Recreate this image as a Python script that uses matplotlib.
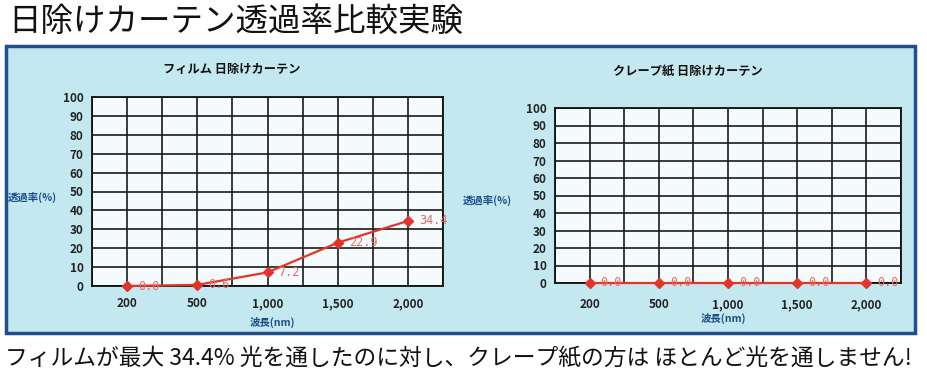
import matplotlib.pyplot as plt
from matplotlib.patches import Rectangle

plt.rcParams['font.family'] = ['Noto Sans CJK JP', 'DejaVu Sans']

# data
wavelengths = ["200", "500", "1,000", "1,500", "2,000"]
film_values = [0.0, 0.6, 7.2, 22.9, 34.4]
crepe_values = [0.0, 0.0, 0.0, 0.0, 0.0]
film_title = "フィルム 日除けカーテン"
crepe_title = "クレープ紙 日除けカーテン"
y_ticks = list(range(0, 101, 10))

W, H = 927, 384
fig = plt.figure(figsize=(W / 100, H / 100), dpi=100)
fig.patch.set_facecolor("white")

# light blue panel behind both charts
panel = Rectangle((6 / W, 1 - 333 / H), 909 / W, 287 / H, transform=fig.transFigure,
                  facecolor="#c3e8ef", edgecolor="#1f4f8e", linewidth=2.5, zorder=-1)
fig.patches.append(panel)

fig.text(8 / W, 1 - 22 / H, "日除けカーテン透過率比較実験", fontsize=23.4,
         ha="left", va="center", color="#111111")
fig.text(5 / W, 1 - 358 / H,
         "フィルムが最大 34.4% 光を通したのに対し、クレープ紙の方は ほとんど光を通しません!",
         fontsize=16.4, ha="left", va="center", color="#111111")

red = "#e3342a"
navy = "#1d4f8e"


def draw_chart(rect, values, title, title_xy, ylab_xy, xlab_xy, xpad):
    ax = fig.add_axes(rect)
    ax.set_facecolor("#f5fbfd")
    x = list(range(len(values)))
    ax.plot(x, values, color=red, linewidth=1.6, marker="D", markersize=5,
            zorder=3, clip_on=False)
    for xi, v in zip(x, values):
        ax.annotate(f"{v:.1f}", (xi, v), xytext=(8, 0), textcoords="offset points",
                    ha="left", va="center", fontsize=8.5, color="#e86a5c",
                    family="DejaVu Sans Mono", zorder=4, annotation_clip=False)
    ax.set_xlim(-0.5, len(values) - 0.5)
    ax.set_ylim(0, 100)
    ax.set_yticks(y_ticks)
    ax.set_xticks(x)
    ax.set_xticklabels(wavelengths)
    ax.set_xticks([i + 0.5 for i in range(-1, len(values))], minor=True)
    ax.grid(True, which="both", color="#1a1a1a", linewidth=1.2)
    ax.set_axisbelow(True)
    for s in ax.spines.values():
        s.set_color("#111111")
        s.set_linewidth(1.3)
    ax.tick_params(axis="both", which="both", length=0)
    ax.tick_params(axis="y", labelsize=8.5, pad=6)
    ax.tick_params(axis="x", labelsize=8.5, pad=xpad)
    for lab in ax.get_xticklabels() + ax.get_yticklabels():
        lab.set_fontweight("bold")
        lab.set_color("#222222")
    fig.text(title_xy[0] / W, 1 - title_xy[1] / H, title, fontsize=8.8,
             fontweight="bold", ha="center", va="center", color="#111111")
    fig.text(ylab_xy[0] / W, 1 - ylab_xy[1] / H, "透過率(%)", fontsize=7.5,
             fontweight="bold", ha="left", va="center", color=navy)
    fig.text(xlab_xy[0] / W, 1 - xlab_xy[1] / H, "波長(nm)", fontsize=7.5,
             fontweight="bold", ha="center", va="center", color=navy)
    return ax


draw_chart([92 / W, 1 - 286 / H, 351 / W, 189 / H], film_values, film_title,
           (232, 70), (8, 197), (272, 322), 8)
draw_chart([555 / W, 1 - 283 / H, 346 / W, 175 / H], crepe_values, crepe_title,
           (688, 71), (463, 200), (723, 318), 11)

fig.savefig("out.png", dpi=100, facecolor=fig.get_facecolor())
